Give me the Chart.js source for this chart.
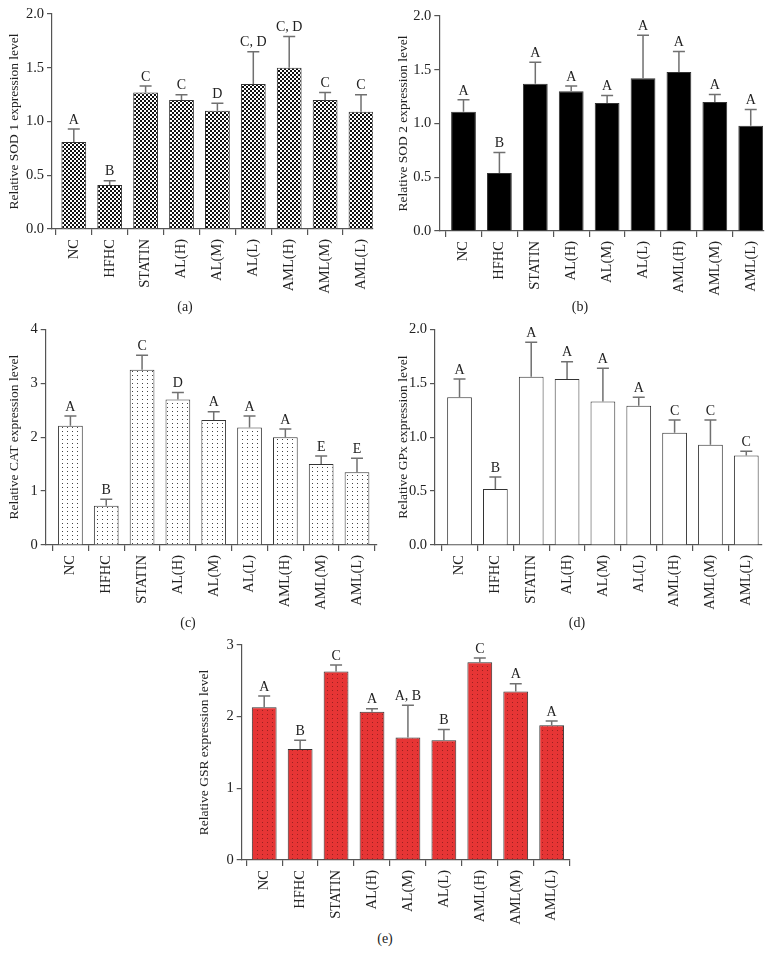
<!DOCTYPE html>
<html>
<head>
<meta charset="utf-8">
<script src="https://cdn.jsdelivr.net/npm/chart.js@4.4.0/dist/chart.umd.min.js"></script>
<style>
  body { margin:0; background:#fff; width:778px; height:953px; position:relative; overflow:hidden; }
  canvas { position:absolute; }
  .cap { position:absolute; font:14px "Liberation Serif", serif; color:#222; transform:translate(-50%,-50%); }
</style>
</head>
<body>
<canvas id="chartA" width="389" height="300" style="left:0;top:0"></canvas>
<canvas id="chartB" width="389" height="300" style="left:389px;top:0"></canvas>
<canvas id="chartC" width="389" height="300" style="left:0;top:310px"></canvas>
<canvas id="chartD" width="389" height="300" style="left:389px;top:310px"></canvas>
<canvas id="chartE" width="400" height="300" style="left:190px;top:625px"></canvas>
<div class="cap" style="left:185px;top:307px">(a)</div>
<div class="cap" style="left:580px;top:307px">(b)</div>
<div class="cap" style="left:188px;top:623px">(c)</div>
<div class="cap" style="left:577px;top:623px">(d)</div>
<div class="cap" style="left:385px;top:939px">(e)</div>
<script>
const groups = ['NC','HFHC','STATIN','AL(H)','AL(M)','AL(L)','AML(H)','AML(M)','AML(L)'];

// SOD 1
const sod1 = [0.81, 0.41, 1.27, 1.20, 1.10, 1.35, 1.50, 1.20, 1.09];
const sod1Err = [0.12, 0.04, 0.06, 0.05, 0.07, 0.30, 0.29, 0.07, 0.16];
const sod1Sig = ['A','B','C','C','D','C, D','C, D','C','C'];
// SOD 2
const sod2 = [1.11, 0.54, 1.37, 1.30, 1.19, 1.42, 1.48, 1.20, 0.98];
const sod2Err = [0.11, 0.19, 0.20, 0.05, 0.07, 0.40, 0.19, 0.07, 0.15];
const sod2Sig = ['A','B','A','A','A','A','A','A','A'];
// CAT
const cat = [2.21, 0.73, 3.25, 2.70, 2.32, 2.18, 2.00, 1.50, 1.35];
const catErr = [0.18, 0.12, 0.27, 0.13, 0.15, 0.21, 0.15, 0.15, 0.26];
const catSig = ['A','B','C','D','A','A','A','E','E'];
// GPx
const gpx = [1.37, 0.52, 1.56, 1.54, 1.33, 1.29, 1.04, 0.93, 0.83];
const gpxErr = [0.17, 0.11, 0.32, 0.16, 0.31, 0.08, 0.12, 0.23, 0.04];
const gpxSig = ['A','B','A','A','A','A','C','C','C'];
// GSR
const gsr = [2.13, 1.55, 2.63, 2.07, 1.71, 1.67, 2.76, 2.35, 1.88];
const gsrErr = [0.16, 0.12, 0.09, 0.04, 0.45, 0.15, 0.06, 0.11, 0.06];
const gsrSig = ['A','B','C','A','A, B','B','C','A','A'];

const FONT = '"Liberation Serif", "Times New Roman", serif';
const INK = '#333';

function tile(w, h, draw) {
    const c = document.createElement('canvas'); c.width = w; c.height = h;
    draw(c.getContext('2d'));
    return c.getContext('2d').createPattern(c, 'repeat');
}
const checker = tile(4, 4, g => { g.fillStyle='#fff'; g.fillRect(0,0,4,4); g.fillStyle='#111'; g.fillRect(0,0,2,2); g.fillRect(2,2,2,2); });
const dots = tile(5, 4, g => { g.fillStyle='#fff'; g.fillRect(0,0,5,4); g.fillStyle='#444'; g.fillRect(2,1,1,1); });
const redDots = tile(5, 4, g => { g.fillStyle='#e63535'; g.fillRect(0,0,5,4); g.fillStyle='#9a2020'; g.fillRect(2,1,1,1); });

function errorBars(vals, errs, sigs) {
    return {
        id: 'errorBars',
        afterDatasetsDraw(chart) {
            const { ctx, scales: { x, y } } = chart;
            ctx.save();
            ctx.strokeStyle = '#707070'; ctx.lineWidth = 1.5;
            ctx.fillStyle = '#222'; ctx.font = '14px ' + FONT;
            ctx.textAlign = 'center'; ctx.textBaseline = 'bottom';
            vals.forEach((v, i) => {
                const cx = x.getPixelForValue(i);
                const y0 = y.getPixelForValue(v), y1 = y.getPixelForValue(v + errs[i]);
                ctx.beginPath();
                ctx.moveTo(cx, y0); ctx.lineTo(cx, y1);
                ctx.moveTo(cx - 6, y1); ctx.lineTo(cx + 6, y1);
                ctx.stroke();
                ctx.fillText(sigs[i], cx, y1 - 2);
            });
            ctx.restore();
        }
    };
}

function makeChart(p) {
    const cv = document.getElementById(p.id);
    const [l, t, r, b] = p.area;
    return new Chart(cv, {
        type: 'bar',
        data: { datasets: [{
            data: p.values.map((v, i) => ({ x: i, y: v })),
            backgroundColor: p.fill, borderColor: INK, borderWidth: 1,
            barPercentage: 0.69, categoryPercentage: 1
        }] },
        options: {
            responsive: false, animation: false, devicePixelRatio: 1,
            layout: { padding: { left: 0, top: t, right: cv.width - r, bottom: 0 } },
            plugins: { legend: { display: false }, tooltip: { enabled: false } },
            scales: {
                x: {
                    type: 'linear', min: p.xr[0], max: p.xr[1], offset: false,
                    grid: { drawOnChartArea: false, tickLength: 6, color: '#555', lineWidth: 1.2 },
                    border: { color: '#555', width: 1.2 },
                    ticks: { stepSize: 1, includeBounds: false, autoSkip: false, minRotation: 90, maxRotation: 90,
                        padding: 4, color: '#222', font: { family: FONT, size: 14.5 },
                        callback: v => groups[v] ?? '' },
                    afterFit: s => { s.height = cv.height - b; }
                },
                y: {
                    min: 0, max: p.yMax,
                    grid: { drawOnChartArea: false, tickLength: 5, color: '#555', lineWidth: 1.2 },
                    border: { color: '#555', width: 1.2 },
                    ticks: { stepSize: p.yStep, padding: 3, color: '#222', font: { family: FONT, size: 14.5 },
                        callback: v => v.toFixed(p.digits) },
                    title: { display: true, text: p.title, color: '#222', font: { family: FONT, size: 13.5 }, padding: { top: 6, bottom: 0 } },
                    afterFit: s => { s.width = l; }
                }
            }
        },
        plugins: [errorBars(p.values, p.errs, p.sigs)]
    });
}

makeChart({ id: 'chartA', area: [52, 14, 373, 229], xr: [-0.607, 8.334], yMax: 2, yStep: 0.5, digits: 1,
    fill: checker, title: 'Relative SOD 1 expression level', values: sod1, errs: sod1Err, sigs: sod1Sig });
makeChart({ id: 'chartB', area: [50.3, 16, 374.3, 231], xr: [-0.674, 8.35], yMax: 2, yStep: 0.5, digits: 1,
    fill: '#000', title: 'Relative SOD 2 expression level', values: sod2, errs: sod2Err, sigs: sod2Sig });
makeChart({ id: 'chartC', area: [45.7, 19.3, 376.7, 235], xr: [-0.69, 8.55], yMax: 4, yStep: 1, digits: 0,
    fill: dots, title: 'Relative CAT expression level', values: cat, errs: catErr, sigs: catSig });
makeChart({ id: 'chartD', area: [46, 19.3, 372.7, 235], xr: [-0.684, 8.43], yMax: 2, yStep: 0.5, digits: 1,
    fill: '#fff', title: 'Relative GPx expression level', values: gpx, errs: gpxErr, sigs: gpxSig });
makeChart({ id: 'chartE', area: [51.7, 20, 380, 235], xr: [-0.626, 8.51], yMax: 3, yStep: 1, digits: 0,
    fill: redDots, title: 'Relative GSR expression level', values: gsr, errs: gsrErr, sigs: gsrSig });
</script>
</body>
</html>
